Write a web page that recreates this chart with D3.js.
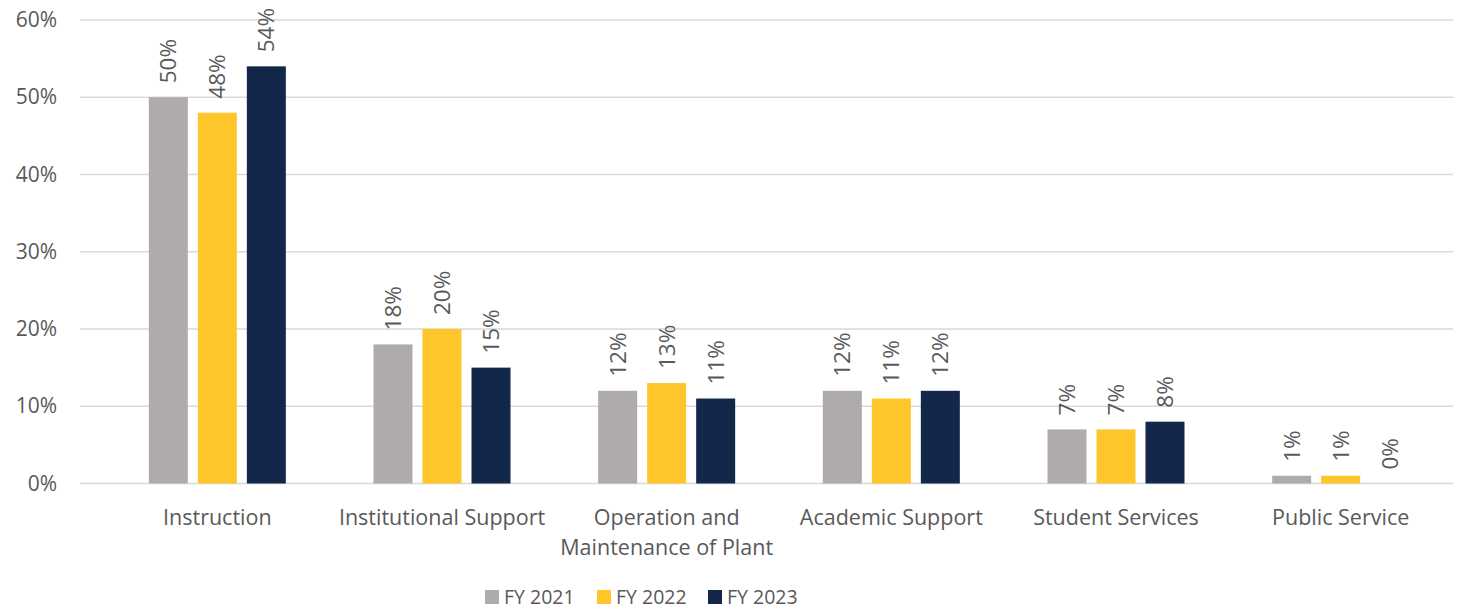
<!DOCTYPE html>
<html>
<head>
<meta charset="utf-8">
<script src="https://cdn.jsdelivr.net/npm/d3@7"></script>
<style>
  html, body { margin: 0; padding: 0; background: #ffffff; }
  svg { display: block; }
  text { font-family: "Open Sans", "Noto Sans", sans-serif; fill: #595959; }
</style>
</head>
<body>
<svg id="chart" width="1462" height="609"></svg>
<script>
// Expense categories (two-line labels split on "\n")
const categories = [
  "Instruction",
  "Institutional Support",
  "Operation and\nMaintenance of Plant",
  "Academic Support",
  "Student Services",
  "Public Service"
];
const seriesNames = ["FY 2021", "FY 2022", "FY 2023"];
const fy2021 = [50, 18, 12, 12, 7, 1];
const fy2022 = [48, 20, 13, 11, 7, 1];
const fy2023 = [54, 15, 11, 12, 8, 0];
const yTicks = [0, 10, 20, 30, 40, 50, 60];
const colors = ["#AFABAB", "#FEC62B", "#13274A"];

const seriesValues = [fy2021, fy2022, fy2023];

const svg = d3.select("#chart");

const gridLeft = 80, plotLeft = 105, plotRight = 1453;
const yTop = 20, yZero = 483.5;

const x0 = d3.scaleBand().domain(categories).range([plotLeft, plotRight]);
const x1 = d3.scaleBand().domain(seriesNames).range([-68.5, 68.5]).paddingInner(10 / 49);
const y = d3.scaleLinear().domain([0, 60]).range([yZero, yTop]);

// Horizontal gridlines
svg.append("g")
  .selectAll("line")
  .data(yTicks)
  .join("line")
  .attr("x1", gridLeft)
  .attr("x2", plotRight)
  .attr("y1", d => y(d))
  .attr("y2", d => y(d))
  .attr("stroke", "#d9d9d9")
  .attr("stroke-width", 1.5);

// Y axis labels
const yAxis = d3.axisLeft(y).tickValues(yTicks).tickFormat(d => d + "%").tickSize(0).tickPadding(0);
const yg = svg.append("g").attr("transform", "translate(57,0)").call(yAxis);
yg.select(".domain").remove();
yg.selectAll("text")
  .attr("font-size", 21)
  .attr("fill", "#595959")
  .style("font-family", '"Open Sans", sans-serif');

// Bars
const groups = svg.append("g")
  .selectAll("g")
  .data(categories)
  .join("g")
  .attr("transform", d => `translate(${x0(d) + x0.bandwidth() / 2},0)`);

groups.each(function(cat, ci) {
  const g = d3.select(this);
  const rows = seriesNames.map((s, si) => ({ s, si, v: seriesValues[si][ci] }));
  g.selectAll("rect")
    .data(rows)
    .join("rect")
    .attr("x", d => x1(d.s))
    .attr("width", x1.bandwidth())
    .attr("y", d => y(d.v))
    .attr("height", d => yZero - y(d.v))
    .attr("fill", d => colors[d.si]);

  // Value labels, rotated
  g.selectAll("text.val")
    .data(rows)
    .join("text")
    .attr("class", "val")
    .attr("transform", d => `translate(${x1(d.s) + x1.bandwidth() / 2},${y(d.v) - 14}) rotate(-90)`)
    .attr("dy", "0.35em")
    .attr("text-anchor", "start")
    .attr("font-size", 22.5)
    .text(d => d.v + "%");
});

// Category labels
const catLabels = svg.append("g")
  .selectAll("text")
  .data(categories)
  .join("text")
  .attr("x", d => x0(d) + x0.bandwidth() / 2)
  .attr("y", 525)
  .attr("text-anchor", "middle")
  .attr("font-size", 21.5);

catLabels.each(function(d) {
  const t = d3.select(this);
  d.split("\n").forEach((line, i) => {
    t.append("tspan")
      .attr("x", x0(d) + x0.bandwidth() / 2)
      .attr("dy", i === 0 ? 0 : 30)
      .text(line);
  });
});

// Legend
const legendX = [485, 597, 708];
const legend = svg.append("g")
  .selectAll("g")
  .data(seriesNames)
  .join("g")
  .attr("transform", (d, i) => `translate(${legendX[i]},590)`);
legend.append("rect")
  .attr("width", 14)
  .attr("height", 14)
  .attr("fill", (d, i) => colors[i]);
legend.append("text")
  .attr("x", 19)
  .attr("y", 7)
  .attr("dy", "0.35em")
  .attr("font-size", 19.5)
  .text(d => d);
</script>
</body>
</html>
